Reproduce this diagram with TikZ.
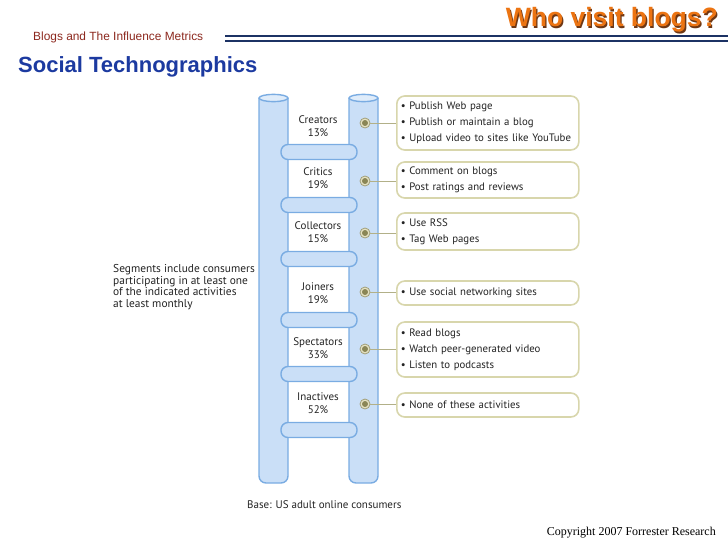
\documentclass[tikz,border=0pt]{standalone}
\usepackage{fontspec}
\setmainfont{Liberation Sans}
\newfontfamily\diagfont{PT Sans}
\newfontfamily\timesfont{Liberation Serif}
\usepackage{tikz}
\usetikzlibrary{positioning, calc}
\definecolor{titleorange}{RGB}{236,116,18}
\definecolor{titleshadow}{RGB}{110,55,20}
\definecolor{subred}{RGB}{140,40,30}
\definecolor{headblue}{RGB}{28,58,160}
\definecolor{rulenavy}{RGB}{28,50,100}
\definecolor{railfill}{RGB}{202,223,247}
\definecolor{railline}{RGB}{122,172,226}
\definecolor{boxline}{RGB}{216,214,172}
\definecolor{dotfill}{RGB}{138,134,86}
\definecolor{dotring}{RGB}{230,227,196}
\definecolor{linkline}{RGB}{178,176,136}
\definecolor{inktext}{RGB}{35,35,35}
\tikzset{
  rail/.style={draw=railline, fill=railfill, line width=1.4pt},
  railtop/.style={draw=railline, fill=railfill!60!white, line width=1.4pt},
  rung/.style={draw=railline, fill=railfill, line width=1.4pt, rounded corners=7pt},
  seglabel/.style={align=center, font=\diagfont\fontsize{11}{13}\selectfont, text=inktext, inner sep=0pt},
  segdot/.style={circle, draw=dotfill!80!white, fill=dotring, line width=0.8pt, minimum size=10pt, inner sep=0pt,
    path picture={\fill[dotfill] (path picture bounding box.center) circle (3pt);}},
  actbox/.style={rectangle, draw=boxline, fill=white, line width=1.6pt, rounded corners=8pt, anchor=west,
    text width=174pt, inner xsep=4pt, inner ysep=0pt, align=left, text=inktext,
    font=\diagfont\fontsize{10.8}{16}\selectfont},
  link/.style={draw=linkline, line width=1pt}
}
\begin{document}
\begin{tikzpicture}[x=1pt, y=-1pt]
  \useasboundingbox (0,0) rectangle (728,546);

  % Header
  \node[titleshadow, font=\bfseries\fontsize{26.5}{30}\selectfont, anchor=east, inner sep=0pt] at (719.3,21.3) {Who visit blogs?};
  \node[titleorange, font=\bfseries\fontsize{26.5}{30}\selectfont, anchor=east, inner sep=0pt] (title) at (718,20) {Who visit blogs?};
  \node[subred, font=\fontsize{11.9}{14}\selectfont, anchor=west, inner sep=0pt] (sub) at (33,37.5) {Blogs and The Influence Metrics};
  \draw[rulenavy, line width=2pt] (225,35.5) -- (728,35.5);
  \draw[rulenavy, line width=2.2pt] (225,41) -- (728,41);
  \node[headblue, font=\bfseries\fontsize{22}{24}\selectfont, anchor=west, inner sep=0pt] (head) at (18,67) {Social Technographics};

  % Ladder rails
  \draw[rail] (259,98) [rounded corners=7pt] -- (259,483) -- (288,483) [sharp corners] -- (288,98);
  \draw[rail] (349,98) [rounded corners=7pt] -- (349,483) -- (378,483) [sharp corners] -- (378,98);
  \draw[railtop] (273.5,98) ellipse (14.5 and 3.6);
  \draw[railtop] (363.5,98) ellipse (14.5 and 3.6);

  % Rungs
  \foreach \ry in {152,205,259,320,374,430}
    \draw[rung] (281,\ry-7.5) rectangle (357,\ry+7.5);

  % Segments
  \node[seglabel] (creators)   at (318,126.5) {Creators\\13\%};
  \node[seglabel] (critics)    at (318,178.5) {Critics\\19\%};
  \node[seglabel] (collectors) at (318,232.5) {Collectors\\15\%};
  \node[seglabel] (joiners)    at (318,293.5) {Joiners\\19\%};
  \node[seglabel] (spectators) at (318,348.5) {Spectators\\33\%};
  \node[seglabel] (inactives)  at (318,403.5) {Inactives\\52\%};

  % Dots on the right rail
  \node[segdot] (dotcre) at (365,123) {};
  \node[segdot] (dotcri) at (365,181) {};
  \node[segdot] (dotcol) at (365,233) {};
  \node[segdot] (dotjoi) at (365,292) {};
  \node[segdot] (dotspe) at (365,349) {};
  \node[segdot] (dotina) at (365,404) {};

  % Activity boxes
  \node[actbox, minimum height=54pt] (boxcre) at (396,123) {\textbullet\ Publish Web page\\\textbullet\ Publish or maintain a blog\\\textbullet\ Upload video to sites like YouTube};
  \node[actbox, minimum height=36pt] (boxcri) at (396,180) {\textbullet\ Comment on blogs\\\textbullet\ Post ratings and reviews};
  \node[actbox, minimum height=37pt] (boxcol) at (396,231.5) {\textbullet\ Use RSS\\\textbullet\ Tag Web pages};
  \node[actbox, minimum height=24pt] (boxjoi) at (396,293) {\textbullet\ Use social networking sites};
  \node[actbox, minimum height=55pt] (boxspe) at (396,349.5) {\textbullet\ Read blogs\\\textbullet\ Watch peer-generated video\\\textbullet\ Listen to podcasts};
  \node[actbox, minimum height=24pt] (boxina) at (396,405) {\textbullet\ None of these activities};

  % Links
  \draw[link] (dotcre) -- (dotcre -| boxcre.west);
  \draw[link] (dotcri) -- (dotcri -| boxcri.west);
  \draw[link] (dotcol) -- (dotcol -| boxcol.west);
  \draw[link] (dotjoi) -- (dotjoi -| boxjoi.west);
  \draw[link] (dotspe) -- (dotspe -| boxspe.west);
  \draw[link] (dotina) -- (dotina -| boxina.west);

  % Notes
  \node[anchor=north west, align=left, inner sep=0pt, text=inktext, font=\diagfont\fontsize{11.4}{11.7}\selectfont] (segnote) at (113,264) {Segments include consumers\\participating in at least one\\of the indicated activities\\at least monthly};
  \node[anchor=west, inner sep=0pt, text=inktext, font=\diagfont\fontsize{11}{13}\selectfont] (base) at (247,505) {Base: US adult online consumers};
  \node[anchor=east, inner sep=0pt, font=\timesfont\fontsize{12}{14}\selectfont] (copy) at (716,533) {Copyright 2007 Forrester Research};
\end{tikzpicture}
\end{document}
